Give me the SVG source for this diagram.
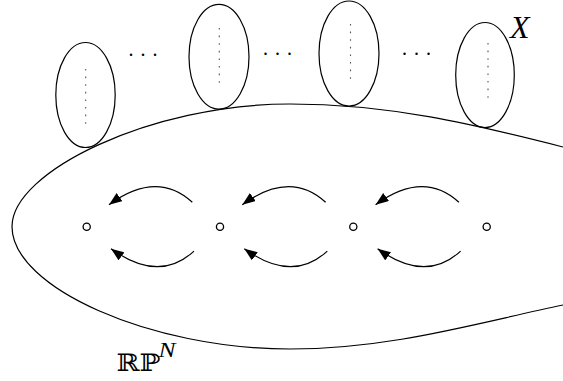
<svg xmlns="http://www.w3.org/2000/svg" width="563" height="381" viewBox="0 0 563 381">
<style>
.ln{fill:none;stroke:#000;stroke-width:1.2}
.ov{fill:none;stroke:#000;stroke-width:1.2}
.dt{fill:none;stroke:#555;stroke-width:1.1;stroke-dasharray:1.6 6}
.pt{fill:#fff;stroke:#000;stroke-width:1.3}
.ar{fill:none;stroke:#000;stroke-width:1.2;marker-end:url(#ah)}
.dots{font-family:"Liberation Serif",serif;font-size:20px;fill:#000;letter-spacing:7px}
.lab{font-family:"Liberation Serif",serif;font-style:italic;fill:#000}
.bb{font-family:"DejaVu Serif","DejaVu Sans",serif;fill:#000}
</style>
<defs>
<marker id="ah" viewBox="0 0 13 10" refX="13" refY="5" markerWidth="13" markerHeight="10" markerUnits="userSpaceOnUse" orient="auto">
<path d="M0,0 L13,5 L0,10 Z" fill="#000"/>
</marker>
</defs>
<rect width="563" height="381" fill="#fff"/>
<g id="rpn">
<path class="ln" d="M563,147 C473,124.1 390,104 290,104 C151,104 12,171.4 12,226.5 C12,287.8 151,349 290,349 C390,349 473,323.9 563,305"/>
<text class="bb" x="116.5" y="370.7" font-size="24" textLength="44" lengthAdjust="spacingAndGlyphs">ℝℙ</text>
<text class="lab" x="158.5" y="356.7" font-size="21" textLength="17" lengthAdjust="spacingAndGlyphs">N</text>
</g>
<g id="fiber1">
<ellipse class="ov" cx="85.5" cy="95" rx="29.7" ry="52.5"/>
<line class="dt" x1="85.7" y1="69" x2="85.7" y2="124"/>
</g>
<g id="fiber2">
<ellipse class="ov" cx="219" cy="56.7" rx="30" ry="52.3"/>
<line class="dt" x1="219.3" y1="28" x2="219.3" y2="83"/>
</g>
<g id="fiber3">
<ellipse class="ov" cx="349" cy="53.5" rx="30" ry="52.5"/>
<line class="dt" x1="350.5" y1="24" x2="350.5" y2="79"/>
</g>
<g id="fiber4">
<ellipse class="ov" cx="485" cy="75" rx="29.3" ry="52.5"/>
<line class="dt" x1="488" y1="43" x2="488" y2="98"/>
</g>
<g id="ellipses">
<text class="dots" x="128.5" y="56">...</text>
<text class="dots" x="263" y="54.5">...</text>
<text class="dots" x="402" y="55">...</text>
</g>
<g id="labelX">
<text class="lab" x="510" y="37.5" font-size="32">X</text>
</g>
<g id="p1"><circle class="pt" cx="86.7" cy="226.7" r="3.6"/></g>
<g id="p2"><circle class="pt" cx="220" cy="226.7" r="3.6"/></g>
<g id="p3"><circle class="pt" cx="353.3" cy="226.7" r="3.6"/></g>
<g id="p4"><circle class="pt" cx="486.7" cy="226.7" r="3.6"/></g>
<g id="connectors">
<path class="ar" d="M192.3,202.3 Q156.9,169.9 109,204.7"/>
<path class="ar" d="M194,251.1 Q158.9,283.5 111,248.7"/>
<path class="ar" d="M325.6,202.3 Q290.2,169.9 242.3,204.7"/>
<path class="ar" d="M327.3,251.1 Q292.2,283.5 244.3,248.7"/>
<path class="ar" d="M458.9,202.3 Q423.5,169.9 375.6,204.7"/>
<path class="ar" d="M460.6,251.1 Q425.5,283.5 377.6,248.7"/>
</g>
</svg>
